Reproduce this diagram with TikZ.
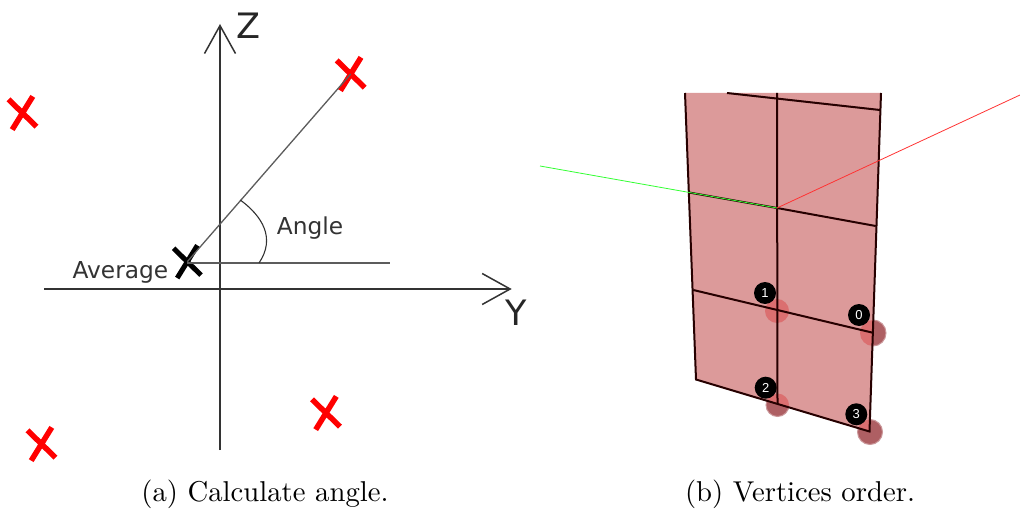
\documentclass[tikz,border=0pt]{standalone}
\usepackage{fontspec}
\newfontfamily\labelfont{DejaVu Sans}
\newfontfamily\badgefont{Liberation Sans}
\usetikzlibrary{arrows.meta, positioning, shapes.misc}
\definecolor{meshfill}{HTML}{DC9A9A}
\definecolor{ballcol}{HTML}{AE5F63}
\definecolor{ballin}{HTML}{DB6F70}
\definecolor{inkgrey}{HTML}{333333}
\tikzset{
  axisline/.style={draw=inkgrey,line width=1.5pt,-{Straight Barb[length=28pt,width=31pt,line width=1.5pt]}},
  guide/.style={draw=inkgrey!80,line width=1.6pt},
  redcross/.style={cross out,draw=red,line width=5.5pt,inner sep=0pt,minimum width=19pt,minimum height=25pt,rotate=7},
  avgcross/.style={redcross,draw=black,line width=5pt},
  tag/.style={font=\labelfont\fontsize{23.3}{23.3}\selectfont,text=inkgrey,inner sep=0pt,anchor=base},
  axisname/.style={font=\labelfont\fontsize{35}{35}\selectfont,text=black!85,inner sep=0pt},
  caption/.style={scale=2.87,anchor=base,inner sep=0pt},
  mesh/.style={draw=black!85!red,line width=2pt},
  ball/.style={circle,fill=ballcol,draw=ballcol!65!white,line width=1pt,inner sep=0pt},
  badge/.style={circle,fill=black,text=white,inner sep=0pt,minimum size=22pt,font=\badgefont\fontsize{13}{13}\selectfont}
}

\begin{document}
\begin{tikzpicture}[x=1pt,y=-1pt]
\useasboundingbox (0,0) rectangle (1020,513);
% left part
\coordinate (zlow) at (220,450);
\coordinate (ztop) at (220,24);
\coordinate (ylow) at (44,289);
\coordinate (ytop) at (511.7,289);
\coordinate (hend) at (390,263);
\node[avgcross] (avg) at (187.3,261.7) {};
\node[redcross] (pa) at (350.7,74) {};
\node[redcross] (pb) at (22.5,113) {};
\node[redcross] (pc) at (41.5,444) {};
\node[redcross] (pd) at (326,413) {};
\draw[axisline] (zlow) -- (ztop);
\draw[axisline] (ylow) -- (ytop);
\draw[guide] (avg.center |- hend) -- (hend);
\draw[guide,line width=1.3pt] (avg.center) -- (pa.center);
\coordinate (arcup) at (240.3,200);
\coordinate (arclow) at (259,263);
\draw[inkgrey,line width=1.1pt] (arcup) .. controls (262,216) and (276,238) .. (arclow);
\node[axisname] (zname) at (248,26) {Z};
\node[axisname] (yname) at (516,312.5) {Y};
\node[tag] (angle) at (310,235) {Angle};
\node[tag] (average) at (120.4,278.3) {Average};
\node[caption] (capa) at (265,501) {(a) Calculate angle.};
% right part
\coordinate (tl) at (685,93);
\coordinate (tr) at (881,93);
\coordinate (br) at (869.5,431.5);
\coordinate (bl) at (696,379.5);
\node[ball,minimum size=24pt] (ba) at (777,311) {};
\node[ball,minimum size=26pt] (bz) at (873,333) {};
\node[ball,minimum size=23pt] (bb) at (777.5,405) {};
\node[ball,minimum size=25pt] (bc) at (870,432) {};
\fill[meshfill] (tl) -- (tr) -- (br) -- (bl) -- cycle;
\begin{scope}
\clip (tl) -- (tr) -- (br) -- (bl) -- cycle;
\fill[ballin] (ba) circle (12);
\fill[ballin] (bz) circle (13);
\fill[ballin] (bb) circle (11.5);
\fill[ballin] (bc) circle (12.5);
\end{scope}
\draw[mesh] (tl) -- (bl) -- (br) -- (tr);
\coordinate (ctop) at (777,93);
\coordinate (cmid) at (777,208);
\coordinate (clow) at (777.5,404);
\draw[mesh] (ctop) -- (clow);
\coordinate (rowa) at (727,93);
\coordinate (rowb) at (880,110);
\draw[mesh] (rowa) -- (rowb);
\coordinate (rowc) at (689,192.5);
\coordinate (rowd) at (875.7,226);
\draw[mesh] (rowc) -- (cmid) -- (rowd);
\coordinate (rowe) at (693.3,290);
\coordinate (rowf) at (872.7,332.7);
\draw[mesh] (rowe) -- (rowf);
\coordinate (redend) at (1020,95);
\coordinate (greenend) at (540,166);
\draw[red!80,line width=.8pt] (cmid) -- (redend);
\draw[green!80,line width=.8pt] (cmid) -- (greenend);
\node[badge] (na) at (765,293) {1};
\node[badge] (nz) at (859,315) {0};
\node[badge] (nb) at (765.7,387.7) {2};
\node[badge] (nc) at (856.3,414.3) {3};
\node[caption] (capb) at (800,501) {(b) Vertices order.};
\end{tikzpicture}
\end{document}
